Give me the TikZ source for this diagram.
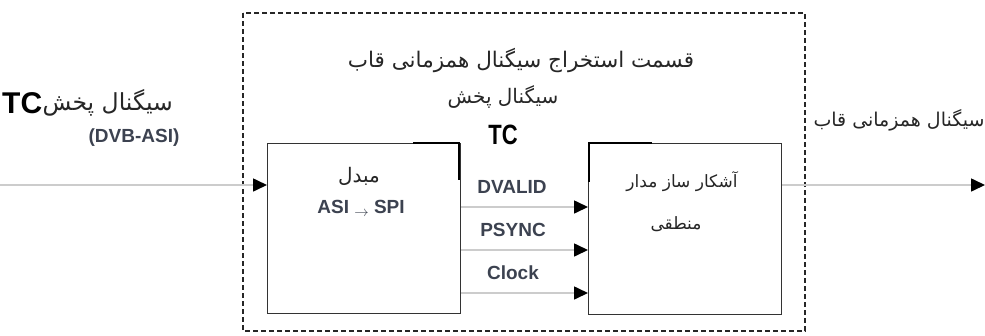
\documentclass[tikz,border=0pt]{standalone}
\usepackage{fontspec}
\setmainfont{Liberation Sans}
\newfontfamily\arabicfont[Script=Arabic]{DejaVu Sans}
\TeXXeTstate=1
\usetikzlibrary{arrows.meta}
\definecolor{lbl}{HTML}{3C4250}
\definecolor{wire}{HTML}{CCCCCC}
\tikzset{
  blockbox/.style={draw=black!80, line width=1.3pt, fill=white},
  wireline/.style={draw=wire, line width=1.6pt, -{Triangle[length=14pt,width=13pt,fill=black,color=black]}},
  frame/.style={draw=black!85, line width=1.2pt, dash pattern=on 5pt off 3pt},
  fa/.style={inner sep=0pt, text=black!85},
  latinlbl/.style={font=\bfseries\fontsize{19}{22}\selectfont, text=lbl, inner sep=0pt},
  artifact/.style={draw=black, line width=2.6pt},
}
\begin{document}
\begin{tikzpicture}[x=1pt,y=-1pt]
\useasboundingbox (0,0) rectangle (985,335);
% dashed frame
\draw[frame] (243,13) rectangle (805,331);
% blocks
\node[blockbox, minimum width=193pt, minimum height=170pt, anchor=north west] (map) at (267,143) {};
\node[blockbox, minimum width=193pt, minimum height=171pt, anchor=north west] (det) at (588,143) {};
% artifacts on corners
\draw[artifact] (413,143) -- (459,143) -- (459,180);
\draw[artifact] (652,143) -- (589,143) -- (589,182);
% external ends
\coordinate (in) at (0,185);
\coordinate (out) at (985,185);
% connectors
\draw[wireline] (in) -- (map.west |- in);
\draw[wireline] (det.east |- out) -- (out);
\draw[wireline] (map.east |- 0,207) -- (det.west |- 0,207);
\draw[wireline] (map.east |- 0,250) -- (det.west |- 0,250);
\draw[wireline] (map.east |- 0,293) -- (det.west |- 0,293);
% signal labels
\node[latinlbl] (dv) at (512,187) {DVALID};
\node[latinlbl] (ps) at (513,230) {PSYNC};
\node[latinlbl] (ck) at (513,273) {Clock};
% title texts
\node[fa, font=\arabicfont\fontsize{21.5}{24}\selectfont] (title) at (521,60) {\beginR قسمت استخراج سیگنال همزمانی قاب\endR};
\node[fa, font=\arabicfont\fontsize{20}{22}\selectfont] (sub) at (503,97) {\beginR سیگنال پخش\endR};
\node[inner sep=0pt, font=\bfseries\fontsize{22}{24}\selectfont] (tc) at (503,135) {\scalebox{1}[1.27]{TC}};
% left input label
\node[anchor=west, inner sep=0pt, font=\bfseries\fontsize{30}{33}\selectfont] (tcl) at (2,103) {TC};
\node[fa, anchor=west, font=\arabicfont\fontsize{23.5}{26}\selectfont] (inl) at (tcl.east) {\beginR سیگنال پخش\endR};
\node[latinlbl] (dvb) at (134,138) {(DVB-ASI)};
% right output label
\node[fa, font=\arabicfont\fontsize{19}{22}\selectfont] (outl) at (899,120) {\beginR سیگنال همزمانی قاب\endR};
% block texts
\node[fa, font=\arabicfont\fontsize{20}{22}\selectfont] (m1) at (359,176) {\beginR مبدل\endR};
\node[latinlbl] (m2) at (361,208) {ASI \raisebox{-3pt}{$\scriptstyle\rightarrow$} SPI};
\node[fa, font=\arabicfont\fontsize{17}{20}\selectfont] (d1) at (682,182) {\beginR آشکار ساز مدار\endR};
\node[fa, font=\arabicfont\fontsize{17}{20}\selectfont] (d2) at (676,224) {\beginR منطقی\endR};
\end{tikzpicture}
\end{document}
